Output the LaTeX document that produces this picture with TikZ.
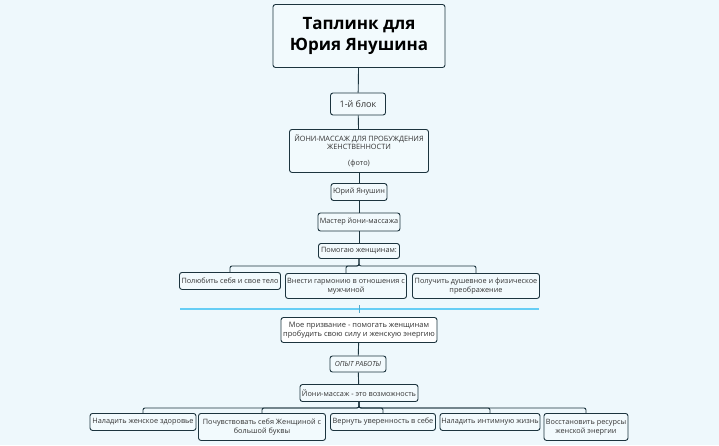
\documentclass[tikz,border=0pt]{standalone}
\usepackage{fontspec}
\setmainfont{Open Sans}
\definecolor{bgc}{RGB}{238,248,252}
\definecolor{bxf}{RGB}{242,250,253}
\definecolor{edg}{RGB}{28,52,62}
\begin{document}
\begin{tikzpicture}[x=1pt,y=-1pt,
  bx/.style={draw=edg,line width=0.9pt,rounded corners=2.5pt,fill=bxf,align=center,font=\fontsize{7.3}{8.7}\selectfont,inner sep=1pt,text=black!80},
  ln/.style={draw=edg,line width=0.9pt,rounded corners=2pt}]
\fill[bgc] (0,0) rectangle (719,445);
\useasboundingbox (0,0) rectangle (719,445);
\node[bx,minimum width=172,minimum height=63,font=\bfseries\fontsize{17}{21}\selectfont,text=black] (t) at (359,36) {Таплинк для\\Юрия Янушина};
\node[bx,minimum width=55,minimum height=22,font=\fontsize{9}{11}\selectfont] (b1) at (358,104) {1-й блок};
\node[bx,minimum width=139,minimum height=43,anchor=north] (y) at (359,129) {ЙОНИ-МАССАЖ ДЛЯ ПРОБУЖДЕНИЯ\\ЖЕНСТВЕННОСТИ\\[7pt](фото)};
\node[bx,minimum width=56,minimum height=17] (u) at (359,192) {Юрий Янушин};
\node[bx,minimum width=82,minimum height=18] (m) at (359,222) {Мастер йони-массажа};
\node[bx,minimum width=81,minimum height=15] (p) at (359,251) {Помогаю женщинам:};
\node[bx,minimum width=101,minimum height=17,anchor=north] (c1) at (230,272) {Полюбить себя и свое тело};
\node[bx,minimum width=121,minimum height=25,anchor=north] (c2) at (346,273) {Внести гармонию в отношения с\\мужчиной};
\node[bx,minimum width=127,minimum height=25,anchor=north] (c3) at (476,273) {Получить душевное и физическое\\преображение};
\draw[cyan!60!white,line width=1.5pt] (180,309) -- (539,309);
\draw[cyan!60!gray,line width=0.6pt] (359,305) -- (359,313);
\node[bx,minimum width=156,minimum height=25,fill=white,font=\fontsize{7.5}{9}\selectfont] (z) at (359,330) {Мое призвание - помогать женщинам\\пробудить свою силу и женскую энергию};
\node[bx,minimum width=56,minimum height=16,font=\itshape\fontsize{7}{8.5}\selectfont] (o) at (358,364) {ОПЫТ РАБОТЫ};
\node[bx,minimum width=118,minimum height=17] (v) at (359,393) {Йони-массаж - это возможность};
\node[bx,minimum width=106,minimum height=17,anchor=north] (d1) at (143,413) {Наладить женское здоровье};
\node[bx,minimum width=127,minimum height=27,anchor=north] (d2) at (262,413) {Почувствовать себя Женщиной с\\большой буквы};
\node[bx,minimum width=105,minimum height=17,anchor=north] (d3) at (383,413) {Вернуть уверенность в себе};
\node[bx,minimum width=100,minimum height=17,anchor=north] (d4) at (490,413) {Наладить интимную жизнь};
\node[bx,minimum width=84,minimum height=27,anchor=north] (d5) at (586,413) {Восстановить ресурсы\\женской энергии};
\draw[ln] (t) -- (b1); \draw[ln] (b1) -- (y); \draw[ln] (y) -- (u);
\draw[ln] (u) -- (m); \draw[ln] (m) -- (p);
\foreach \c in {c1,c2,c3} \draw[ln] (p.south) -- ++(0,7) -| (\c.north);
\draw[ln] (z) -- (o); \draw[ln] (o) -- (v);
\foreach \c in {d1,d2,d3,d4,d5} \draw[ln] (v.south) -- ++(0,6) -| (\c.north);
\end{tikzpicture}
\end{document}
